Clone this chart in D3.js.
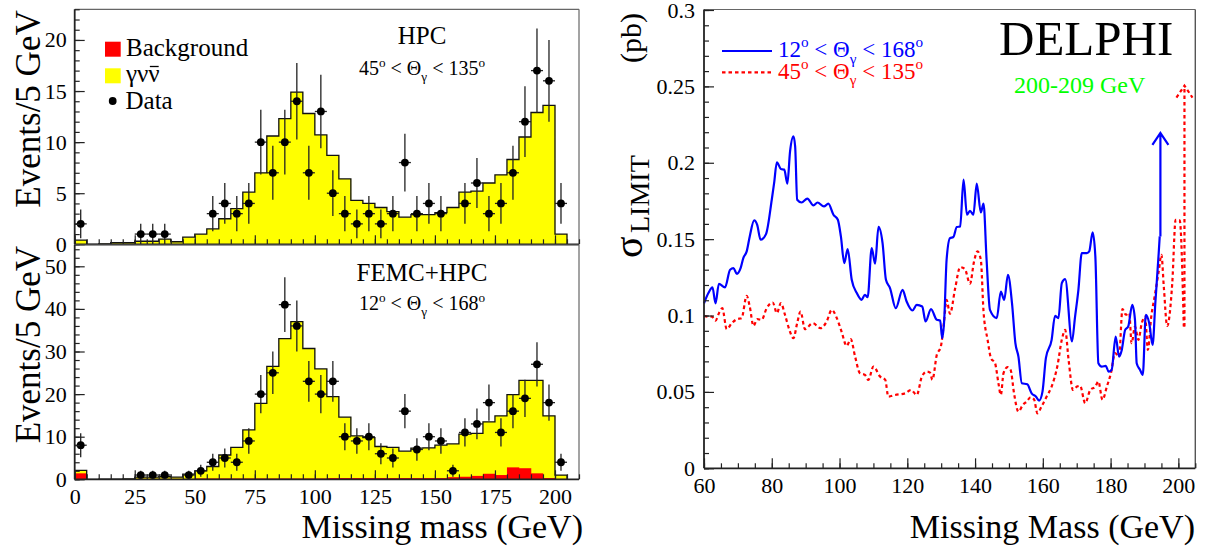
<!DOCTYPE html>
<html><head><meta charset="utf-8">
<script src="https://cdn.jsdelivr.net/npm/d3@7"></script>
<style>
body{margin:0;background:#fff}
svg text{font-family:"Liberation Serif","Times New Roman",serif;fill:#000}
</style>
</head><body>
<svg id="c" width="1207" height="553"></svg>
<script>
// ---------------- DATA ----------------
const binWidth = 5; // GeV per bin, bins start at 0
// HPC panel (45 < theta < 135)
const hpcGammaNuNu = [0.4,0,0.05,0.15,0.15,0.3,0.3,0.5,0.25,0.7,1.0,1.5,2.5,3.5,5.1,7.0,10.6,12.3,14.9,12.8,10.7,8.7,6.4,4.3,4.0,3.6,3.2,2.65,2.9,2.9,3.1,3.6,5.1,5.2,6.0,6.8,8.3,10.5,12.9,13.6,1.0];
const hpcData = [2,0,0,0,0,1,1,1,0,0,0,3,4,3,4,10,7,10,14,7,13,5,3,2,3,2,3,8,3,4,3,0,4,6,3,4,7,12,17,16,4];
// FEMC+HPC panel (12 < theta < 168)
const femcBackground = [1.4,0,0,0,0,0.1,0.1,0.1,0.1,0.1,0.2,0.2,0.2,0.2,0.2,0.2,0.2,0.2,0.2,0.2,0.2,0.3,0.3,0.3,0.3,0.3,0.3,0.3,0.3,0.3,0.3,0.5,0.6,0.8,1.3,1.0,2.8,2.6,1.4,0.3,0.1];
const femcGammaNuNu = [0.7,0,0.05,0.05,0.1,0.4,0.4,0.5,0.4,1.1,1.8,2.8,5.5,7.3,11.4,17.6,26.3,32.8,36.8,30.5,25.7,19.1,14.3,9.9,9.5,7.4,7.2,6.3,7.0,7.1,7.7,7.8,10.0,10.0,12.2,13.9,17.1,20.6,21.8,14.6,0.9];
const femcData = [8,0,0,0,0,1,1,1,0,1,2,4,5,4,9,20,25,41,36,23,20,23,10,9,10,6,5,16,7,10,9,2,11,13,18,11,16,19,27,18,4];
const leftXTicks = [0,25,50,75,100,125,150,175,200];
const hpcYTicks = [0,5,10,15,20];
const femcYTicks = [0,10,20,30,40,50];

// Cross-section limit curves
const mass12 = [60,61.3,62.5,63.4,64.4,66.2,67.7,68.7,69.7,70.8,71.6,72.6,73.5,74.8,75.7,76.7,78.3,80.0,80.7,81.5,82.7,83.7,84.6,85.4,86.4,86.9,87.5,88.8,90.5,92.3,93.5,95.4,96.7,98.2,99.5,100.4,101.4,102.4,103.6,105.1,106.5,107.5,108.3,109.5,110.5,111.5,112.7,113.7,114.9,116.6,118.6,119.8,121.5,122.8,124.4,125.4,127.0,128.7,129.7,130.3,130.9,131.6,132.6,133.6,134.6,135.6,136.6,137.6,138.5,139.5,140.5,141.7,142.5,143.4,144.4,146.4,147.6,148.6,149.7,150.9,151.9,152.8,153.8,155.4,156.7,158.0,158.9,159.9,160.9,162.6,163.6,164.6,165.6,166.6,168.6,169.5,170.5,171.5,173.0,173.7,174.7,175.5,176.4,177.4,178.6,179.4,180.3,181.5,182.5,183.3,184.3,185.2,186.4,187.2,187.7,188.7,189.5,190.4,191.4,192.4,193.2,194.2,194.5];
const sigma12 = [0.108,0.1147,0.1184,0.108,0.1208,0.1184,0.130,0.131,0.1273,0.131,0.1376,0.142,0.1518,0.1623,0.1594,0.1496,0.1533,0.1758,0.1868,0.2003,0.1959,0.1955,0.1863,0.2075,0.2173,0.2107,0.1758,0.174,0.1765,0.1721,0.174,0.1714,0.1732,0.166,0.1627,0.1518,0.1343,0.1435,0.1234,0.1147,0.1103,0.1136,0.112,0.1442,0.1339,0.158,0.1474,0.1234,0.118,0.1048,0.1168,0.1092,0.1033,0.107,0.1059,0.0961,0.1042,0.0972,0.0967,0.0852,0.0972,0.1365,0.1507,0.1514,0.1579,0.1583,0.1889,0.166,0.1686,0.166,0.1863,0.1675,0.1732,0.1365,0.1037,0.0983,0.1157,0.1103,0.1267,0.1081,0.0819,0.0731,0.0557,0.055,0.0491,0.0469,0.0443,0.0502,0.0721,0.0841,0.0998,0.0983,0.1212,0.1238,0.083,0.099,0.1168,0.1409,0.1409,0.142,0.1544,0.1387,0.0688,0.0666,0.067,0.0633,0.0644,0.0862,0.0731,0.0775,0.0906,0.0928,0.107,0.0972,0.0688,0.0644,0.0611,0.1005,0.095,0.0808,0.1081,0.1409,0.1518];
const arrow12 = [194.7, 0.1518, 0.2195]; // mass, from, to
const mass45 = [60,61.3,62.3,63.4,64.5,65.4,66.7,68.2,69.7,71.1,72.6,73.5,74.6,75.7,77.0,78.5,80.3,81.5,82.7,83.9,85.2,86.4,87.5,88.5,89.8,92.1,94.4,96.2,97.7,99.2,100.6,102.1,103.3,104.6,106.0,107.5,108.5,110.0,112.0,113.5,114.4,116.4,119.4,121.1,122.8,124.3,125.8,126.7,127.4,128.7,129.9,130.8,131.6,132.6,134.1,135.6,137.0,138.5,139.7,140.7,141.7,142.5,143.7,144.7,145.9,146.9,147.6,148.4,149.6,150.5,151.5,152.8,154.1,155.2,156.4,157.4,158.4,159.6,161.1,162.6,164.3,165.6,166.6,167.6,168.9,170.1,171.0,172.5,174.0,175.5,176.4,177.6,178.9,180.1,181.3,182.5,183.5,184.5,185.5,186.2,187.2,188.2,189.2,190.2,191.0,192.0,193.0,194.2,195.0,195.7,196.7,198.2,199.2,200.4,201.6];
const sigma45 = [0.0998,0.0993,0.0993,0.0967,0.102,0.1048,0.0911,0.095,0.0976,0.0983,0.1129,0.1059,0.0932,0.0976,0.0972,0.1048,0.1085,0.1016,0.1081,0.1005,0.0906,0.0852,0.095,0.1026,0.0911,0.095,0.0917,0.0961,0.1037,0.0983,0.0895,0.0801,0.0845,0.0731,0.0623,0.0611,0.0579,0.0666,0.06,0.0579,0.0469,0.048,0.0491,0.0513,0.048,0.06,0.0633,0.0626,0.0579,0.0742,0.0797,0.095,0.1103,0.1011,0.1175,0.1317,0.1304,0.1208,0.1354,0.142,0.1365,0.1026,0.0841,0.0721,0.0688,0.0557,0.048,0.0623,0.0662,0.0644,0.0491,0.0371,0.0415,0.0436,0.0465,0.0452,0.036,0.0404,0.0469,0.0535,0.067,0.0841,0.0906,0.071,0.0513,0.0535,0.054,0.0426,0.0513,0.0535,0.0568,0.0448,0.0535,0.0623,0.0754,0.0731,0.1042,0.1005,0.1016,0.0819,0.0928,0.0841,0.095,0.0993,0.0775,0.0993,0.1125,0.1288,0.1398,0.119,0.0932,0.1212,0.1627,0.1623,0.0928];
const arrow45 = [201.8, 0.0928, 0.2505];
const rightXTicks = [60,80,100,120,140,160,180,200];
const rightYTicks = [0,0.05,0.1,0.15,0.2,0.25,0.3];

// ---------------- DRAW ----------------
const svg = d3.select('#c');
const FONT = '"Liberation Serif","Times New Roman",serif';

function rich(g, x, y, parts, size, anchor, color){
  const t = g.append('text').attr('x',x).attr('y',y).attr('font-size',size)
    .attr('text-anchor',anchor||'start').style('fill',color||'#000');
  let off = 0;
  parts.forEach(([s,k])=>{
    let target = k==='sup' ? -size*0.42 : k==='sub' ? size*0.3 : 0;
    t.append('tspan').attr('dy', target-off).attr('font-size', k==='n'?size:size*0.66).text(s);
    off = target;
  });
  return t;
}

function axis(g, scale, orient, pos, majors, minors, majLen, minLen, fmt, fs, pad){
  const mk = orient==='left' ? d3.axisLeft : d3.axisBottom;
  const tr = orient==='left' ? `translate(${pos},0)` : `translate(0,${pos})`;
  const a1 = g.append('g').attr('transform',tr)
    .call(mk(scale).tickValues(minors).tickSize(-minLen).tickSizeOuter(0).tickFormat(''));
  const a2 = g.append('g').attr('transform',tr)
    .call(mk(scale).tickValues(majors).tickSize(-majLen).tickSizeOuter(0).tickPadding(pad).tickFormat(fmt));
  [a1,a2].forEach(a=>{
    a.select('.domain').remove();
    a.selectAll('line').attr('stroke','#222').attr('stroke-width',1.2);
    a.selectAll('text').attr('font-size',fs).attr('font-family',FONT).attr('fill','#000');
  });
  return a2;
}

// Left panels
const xL = d3.scaleLinear().domain([0,210]).range([74.7,579]);
const panels = [
  {top:9.3, bottom:244.3, ymax:23, sig:hpcGammaNuNu, bg:null, data:hpcData, yt:hpcYTicks, ymin:1, labels:false,
   title:'HPC', range:['45','135']},
  {top:245, bottom:479.3, ymax:55, sig:femcGammaNuNu, bg:femcBackground, data:femcData, yt:femcYTicks, ymin:2, labels:true,
   title:'FEMC+HPC', range:['12','168']}
];
panels.forEach((p,pi)=>{
  const y = d3.scaleLinear().domain([0,p.ymax]).range([p.bottom,p.top]);
  const g = svg.append('g');
  const tot = p.sig.map((v,i)=> v + (p.bg ? p.bg[i] : 0));
  g.selectAll('rect.s').data(tot).join('rect')
    .attr('x',(d,i)=>xL(i*binWidth)).attr('width',(d,i)=>xL((i+1)*binWidth)-xL(i*binWidth)+0.3)
    .attr('y',d=>y(d)).attr('height',d=>y(0)-y(d)).attr('fill','#ffff00');
  if(p.bg){
    g.selectAll('rect.b').data(p.bg).join('rect')
      .attr('x',(d,i)=>xL(i*binWidth)).attr('width',(d,i)=>xL((i+1)*binWidth)-xL(i*binWidth)+0.3)
      .attr('y',d=>y(d)).attr('height',d=>y(0)-y(d)).attr('fill','#ff0000');
  }
  let dpath = `M${xL(0)},${y(0)}`;
  tot.forEach((v,i)=>{ dpath += `L${xL(i*binWidth)},${y(v)}L${xL((i+1)*binWidth)},${y(v)}`; });
  dpath += `L${xL(tot.length*binWidth)},${y(0)}`;
  g.append('path').attr('d',dpath).attr('fill','none').attr('stroke','#111').attr('stroke-width',1.3);
  p.data.forEach((n,i)=>{
    if(n<=0) return;
    const cx = xL(i*binWidth+binWidth/2), e = Math.sqrt(n);
    g.append('line').attr('x1',cx).attr('x2',cx).attr('y1',y(Math.max(0,n-e))).attr('y2',y(Math.min(p.ymax,n+e)))
      .attr('stroke','#222').attr('stroke-width',1.3);
    g.append('line').attr('x1',xL(i*binWidth)).attr('x2',xL((i+1)*binWidth)).attr('y1',y(n)).attr('y2',y(n))
      .attr('stroke','#222').attr('stroke-width',1.3);
    g.append('circle').attr('cx',cx).attr('cy',y(n)).attr('r',3.9).attr('fill','#000');
  });
  g.append('line').attr('x1',xL(0)).attr('x2',xL(210)).attr('y1',p.top).attr('y2',p.top).attr('stroke','#666').attr('stroke-width',1.2);
  g.append('line').attr('x1',xL(210)).attr('x2',xL(210)).attr('y1',p.top).attr('y2',p.bottom).attr('stroke','#666').attr('stroke-width',1.2);
  axis(g, y, 'left', xL(0), p.yt, d3.range(0,p.ymax+0.001,p.ymin), 10, 5, d=>d, 22, 8);
  axis(g, xL, 'bottom', p.bottom, leftXTicks, d3.range(0,211,5), 9, 5, p.labels? (d=>d) : (()=>''), 22, 9);
  g.append('line').attr('x1',xL(0)).attr('x2',xL(0)).attr('y1',p.top).attr('y2',p.bottom).attr('stroke','#222').attr('stroke-width',1.8);
  g.append('line').attr('x1',xL(0)).attr('x2',xL(210)).attr('y1',p.bottom).attr('y2',p.bottom).attr('stroke','#222').attr('stroke-width',1.8);
  svg.append('text').attr('transform',`translate(40,${p.top+1}) rotate(-90)`).attr('text-anchor','end')
    .attr('font-size',35).text('Events/5 GeV');
  const cx = 422;
  svg.append('text').attr('x',cx).attr('y',pi===0?44.3:280.7).attr('text-anchor','middle').attr('font-size',25).text(p.title);
  rich(svg, cx, pi===0?75:310, [[p.range[0],'n'],['o','sup'],[' < Θ','n'],['γ','sub'],[' < '+p.range[1],'n'],['o','sup']], 20, 'middle');
});
svg.append('text').attr('x',583).attr('y',538).attr('text-anchor','end').attr('font-size',34).text('Missing mass (GeV)');

// Left legend
svg.append('rect').attr('x',105).attr('y',41.7).attr('width',15.7).attr('height',15).attr('fill','#ff0000');
svg.append('text').attr('x',126).attr('y',56).attr('font-size',25).text('Background');
svg.append('rect').attr('x',105).attr('y',68.3).attr('width',15.7).attr('height',15).attr('fill','#ffff00');
const gnn = svg.append('text').attr('x',126).attr('y',82).attr('font-size',25).text('γνν');
{
  const node = gnn.node();
  const x0 = 126 + node.getSubStringLength(0,2), w = node.getSubStringLength(2,1);
  svg.append('line').attr('x1',x0+1.5).attr('x2',x0+w-1).attr('y1',66.5).attr('y2',66.5)
    .attr('stroke','#000').attr('stroke-width',1.3);
}
svg.append('circle').attr('cx',112.7).attr('cy',101).attr('r',3.9).attr('fill','#000');
svg.append('text').attr('x',125.5).attr('y',109.3).attr('font-size',25).text('Data');

// Right panel
const xR = d3.scaleLinear().domain([60,205]).range([704,1195.3]);
const yR = d3.scaleLinear().domain([0,0.3]).range([468.3,10]);
const gR = svg.append('g');
const line = d3.line().x(d=>xR(d[0])).y(d=>yR(d[1])).curve(d3.curveMonotoneX);
gR.append('path').attr('d',line(mass45.map((m,i)=>[m,sigma45[i]]))).attr('fill','none')
  .attr('stroke','#ff0000').attr('stroke-width',2.2).attr('stroke-dasharray','3.5,3');
gR.append('path').attr('d',line(mass12.map((m,i)=>[m,sigma12[i]]))).attr('fill','none')
  .attr('stroke','#0000ff').attr('stroke-width',2.2);
function arrow(a, color, dash){
  const x = xR(a[0]), y0 = yR(a[1]), y1 = yR(a[2]);
  gR.append('path').attr('d',`M${x},${y0}L${x},${y1}M${x-8},${y1+12}L${x},${y1}L${x+8},${y1+12}`)
    .attr('fill','none').attr('stroke',color).attr('stroke-width',2.2).attr('stroke-dasharray',dash||null);
}
arrow(arrow12,'#0000ff');
arrow(arrow45,'#ff0000','3.5,3');
gR.append('line').attr('x1',704).attr('x2',1195.3).attr('y1',9.5).attr('y2',9.5).attr('stroke','#666').attr('stroke-width',1.2);
gR.append('line').attr('x1',1195.3).attr('x2',1195.3).attr('y1',9.5).attr('y2',468.3).attr('stroke','#555').attr('stroke-width',1.4);
axis(gR, yR, 'left', 704, rightYTicks, d3.range(0,0.3001,0.01), 10, 5, d=>String(Math.round(d*100)/100), 22, 9);
axis(gR, xR, 'bottom', 468.3, rightXTicks, d3.range(60,206,5), 10, 5, d=>d, 22, 9);
gR.append('line').attr('x1',704).attr('x2',704).attr('y1',9.5).attr('y2',468.3).attr('stroke','#222').attr('stroke-width',1.8);
gR.append('line').attr('x1',704).attr('x2',1195.3).attr('y1',468.3).attr('y2',468.3).attr('stroke','#222').attr('stroke-width',1.8);

svg.append('text').attr('x',1195).attr('y',538).attr('text-anchor','end').attr('font-size',34).text('Missing Mass (GeV)');
svg.append('text').attr('transform','translate(642,258) rotate(-90)').attr('font-size',40).text('σ');
svg.append('text').attr('transform','translate(649,233) rotate(-90)').attr('font-size',28).text('LIMIT');
svg.append('text').attr('transform','translate(641,63) rotate(-90)').attr('font-size',30).text('(pb)');

// Right legend
svg.append('line').attr('x1',722).attr('x2',772).attr('y1',51).attr('y2',51).attr('stroke','#0000ff').attr('stroke-width',2.2);
rich(svg, 778, 57, [['12','n'],['o','sup'],[' < Θ','n'],['γ','sub'],[' < 168','n'],['o','sup']], 23, 'start', '#0000ff');
svg.append('line').attr('x1',722).attr('x2',772).attr('y1',72.3).attr('y2',72.3).attr('stroke','#ff0000').attr('stroke-width',2.2).attr('stroke-dasharray','3.5,3');
rich(svg, 778, 78.5, [['45','n'],['o','sup'],[' < Θ','n'],['γ','sub'],[' < 135','n'],['o','sup']], 23, 'start', '#ff0000');

svg.append('text').attr('x',999).attr('y',55).attr('font-size',49).text('DELPHI');
svg.append('text').attr('x',1014).attr('y',92.7).attr('font-size',24).style('fill','#00ff00').text('200-209 GeV');
</script>
</body></html>
